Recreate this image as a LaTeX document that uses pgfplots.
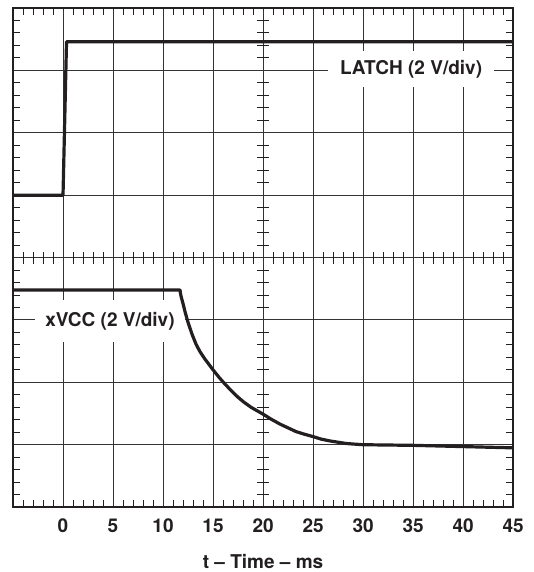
\documentclass[border=0pt]{standalone}
\usepackage{pgfplots}
\pgfplotsset{compat=1.18}
\usepackage{fontspec}
\setmainfont{TeX Gyre Heros}
\newcommand{\bsans}{\bfseries}
\definecolor{ink}{HTML}{231F20}
\begin{document}
\begin{tikzpicture}
\begin{axis}[
  scale only axis,
  width=500bp, height=499bp,
  xmin=-5, xmax=45, ymin=0, ymax=8,
  xtick={-5,0,5,10,15,20,25,30,35,40,45},
  xticklabels={,0,5,10,15,20,25,30,35,40,45},
  ytick={0,1,2,3,4,5,6,7,8},
  yticklabels={},
  minor x tick num=4, minor y tick num=4,
  tick align=inside, tick pos=both,
  major tick length=0pt, minor tick length=7bp,
  minor tick style={line width=0.9bp, ink},
  grid=major,
  major grid style={line width=0.9bp, black!80},
  axis line style={line width=2.4bp, ink},
  /pgf/number format/assume math mode=true,
  xticklabel style={font=\bsans\fontsize{19bp}{22bp}\selectfont, anchor=center, yshift=-19bp, text=ink},
  xlabel={t – Time – ms},
  xlabel style={font=\bsans\fontsize{19bp}{22bp}\selectfont, at={(axis description cs:0.5,-0.109)}, anchor=center, text=ink},
  clip=false,
]
\path (axis description cs:-0.026,-0.130) rectangle (axis description cs:1.04,1.016);
% center cross ticks
\addplot[only marks, mark=|, mark size=6bp, mark options={line width=0.9bp, ink}] coordinates {
(-4,4)(-3,4)(-2,4)(-1,4)(1,4)(2,4)(3,4)(4,4)(6,4)(7,4)(8,4)(9,4)
(11,4)(12,4)(13,4)(14,4)(16,4)(17,4)(18,4)(19,4)(21,4)(22,4)(23,4)(24,4)
(26,4)(27,4)(28,4)(29,4)(31,4)(32,4)(33,4)(34,4)(36,4)(37,4)(38,4)(39,4)
(41,4)(42,4)(43,4)(44,4)};
\addplot[only marks, mark=-, mark size=6bp, mark options={line width=0.9bp, ink}] coordinates {
(20,0.2)(20,0.4)(20,0.6)(20,0.8)(20,1.2)(20,1.4)(20,1.6)(20,1.8)
(20,2.2)(20,2.4)(20,2.6)(20,2.8)(20,3.2)(20,3.4)(20,3.6)(20,3.8)
(20,4.2)(20,4.4)(20,4.6)(20,4.8)(20,5.2)(20,5.4)(20,5.6)(20,5.8)
(20,6.2)(20,6.4)(20,6.6)(20,6.8)(20,7.2)(20,7.4)(20,7.6)(20,7.8)};
% labels with white boxes
\node[fill=white, inner xsep=12bp, inner ysep=9bp, text=ink,
  font=\bsans\fontsize{19bp}{22bp}\selectfont] at (axis cs:34.8,7.02) {LATCH (2 V/div)};
\node[fill=white, inner xsep=10bp, inner ysep=12bp, text=ink,
  font=\bsans\fontsize{19bp}{22bp}\selectfont] at (axis cs:4.7,2.98) {xVCC (2 V/div)};
% LATCH trace
\addplot[ink, line width=3.2bp, line join=round] coordinates {
(-5,5.0)(0,5.0)(0.35,7.46)(45,7.46)};
% xVCC trace
\addplot[ink, line width=3.2bp, line join=round] coordinates {
(-5,3.48)(11.7,3.48)(11.73,3.44)(11.8,3.38)(11.9,3.32)(12.0,3.26)(12.2,3.13)(12.5,2.96)(12.9,2.77)(13.3,2.61)
(13.7,2.49)(14.2,2.37)(15,2.20)(15.6,2.08)(16.2,1.97)(16.8,1.87)(17.5,1.76)(18.1,1.68)(18.8,1.60)(20,1.49)(20.8,1.41)(21.7,1.33)
(22.5,1.27)(23.3,1.21)(24.1,1.17)(25,1.13)(25.8,1.09)(26.7,1.06)(27.5,1.04)(28.3,1.02)(29.1,1.01)(30,1.0)(35,0.99)(40,0.97)(45,0.95)};
\end{axis}
\end{tikzpicture}
\end{document}
